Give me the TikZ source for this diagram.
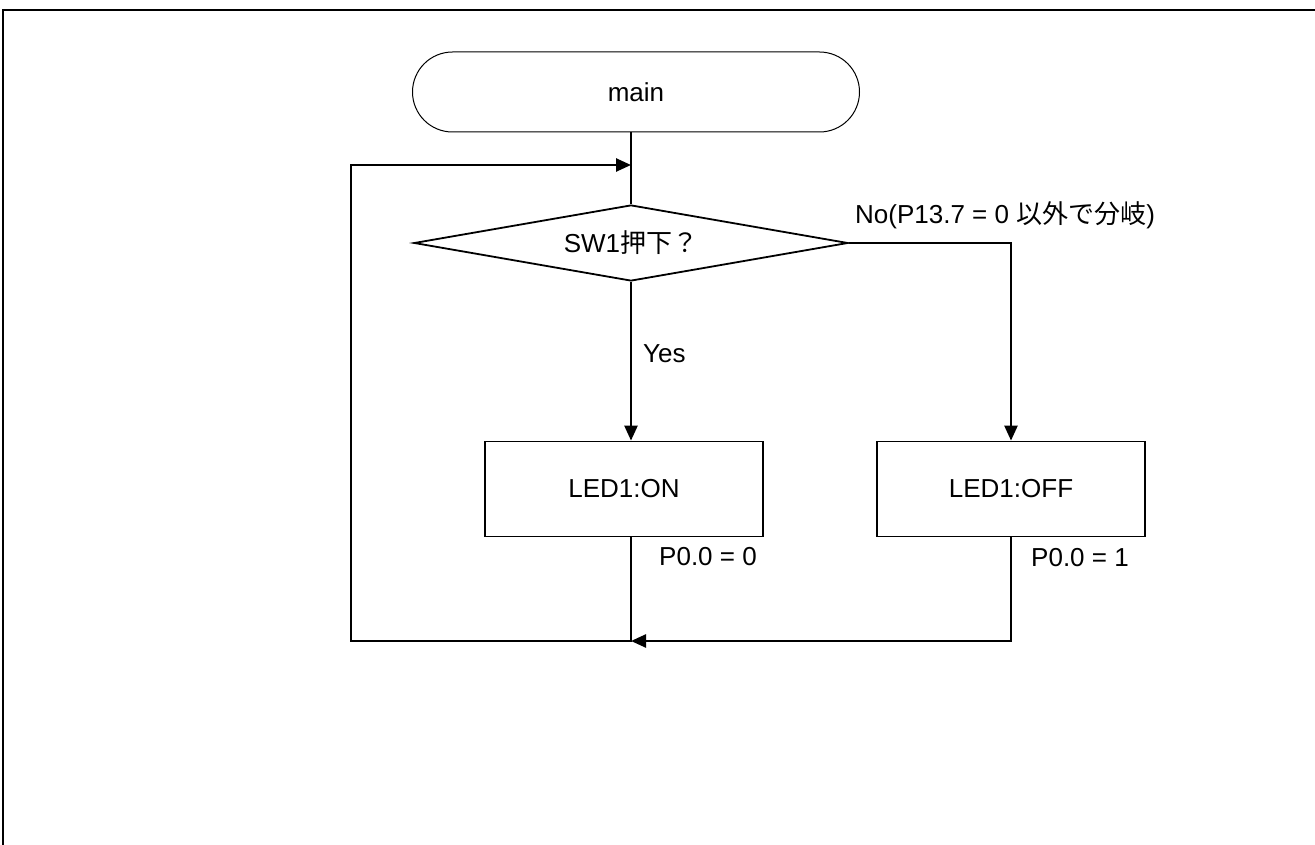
\documentclass[tikz,border=0pt]{standalone}
\usepackage{fontspec}
\setmainfont{Liberation Sans}
\newfontfamily\cjk{Noto Sans CJK JP}
\usetikzlibrary{shapes.geometric,arrows.meta}
\begin{document}
\begin{tikzpicture}[x=1pt,y=-1pt,
  every node/.style={font=\fontsize{26}{30}\selectfont, inner sep=0pt},
  frame/.style={line width=2.5pt},
  term/.style={draw, line width=1pt, rounded corners=40pt, minimum width=447pt, minimum height=80pt},
  decision/.style={draw, diamond, line width=1.8pt, aspect=5.7, minimum width=434pt, minimum height=76pt},
  proc/.style={draw, rectangle, line width=1.8pt, minimum height=95pt},
  conn/.style={line width=2.5pt},
  arr/.style={conn, -{Triangle[length=15pt,width=13pt]}},
  lbl/.style={anchor=west}
]
\useasboundingbox (0,0) rectangle (1315,845);
\draw[frame] (3,845) -- (3,10) -- (1315,10);

\node[term] (main) at (636,92) {main};
\node[decision] (sw) at (631,243) {SW1{\cjk 押下？}};
\node[proc, minimum width=278pt] (on) at (624,489) {LED1:ON};
\node[proc, minimum width=268pt] (off) at (1011,489) {LED1:OFF};

\coordinate (j) at (631,641);
\coordinate (lc) at (351,641);
\coordinate (lt) at (351,165);
\coordinate (mt) at (631,165);

\draw[conn] (sw.north |- main.south) -- (sw.north);
\draw[arr] (sw.south) -- (sw.south |- on.north);
\draw[arr] (sw.east) -| (off.north);
\draw[arr] (sw.south |- on.south) -- (j) -- (lc) -- (lt) -- (mt);
\draw[arr] (off.south) -- (off.south |- j) -- (j);

\node[lbl] (yes) at (643,354) {Yes};
\node[lbl] (no) at (855,215) {No(P13.7 = 0 {\cjk 以外で分岐})};
\node[lbl] (p0) at (659,557) {P0.0 = 0};
\node[lbl] (p1) at (1031,558) {P0.0 = 1};
\end{tikzpicture}
\end{document}
